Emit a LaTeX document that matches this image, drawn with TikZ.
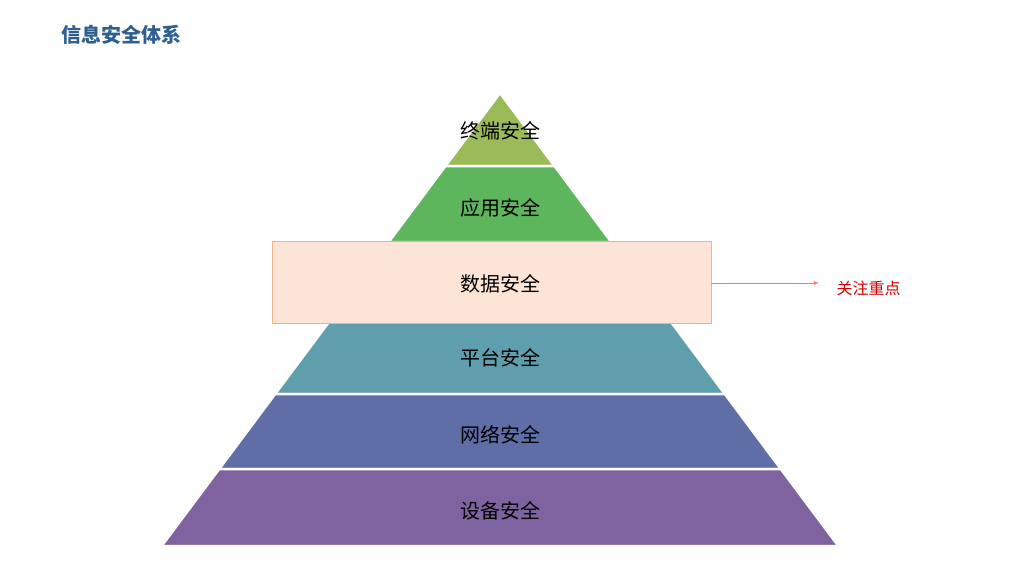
\documentclass[tikz,border=0pt]{standalone}
\usepackage{fontspec}
\newfontfamily\cjk{Noto Sans CJK SC}
\definecolor{c1}{HTML}{9BBB59}
\definecolor{c2}{HTML}{5DB55C}
\definecolor{c4}{HTML}{5F9EAD}
\definecolor{c5}{HTML}{606EA8}
\definecolor{c6}{HTML}{7F63A1}
\definecolor{boxfill}{HTML}{FCE4D6}
\definecolor{boxline}{HTML}{F4B183}
\definecolor{titleblue}{HTML}{2F5F8F}
\begin{document}
\begin{tikzpicture}[x=1pt,y=-1pt,
  layer/.style={draw=white,line width=2.5pt},
  lbl/.style={font=\cjk\fontsize{20}{24}\selectfont,text=black}]
\useasboundingbox (0,0) rectangle (1024,576);
\fill[white] (0,0) rectangle (1024,576);
% pyramid: apex (500,93), slope 0.747
\def\hw#1{(#1-93)*0.747}
\fill[layer,fill=c1] (500,93) -- ({500+\hw{166}},166) -- ({500-\hw{166}},166) -- cycle;
\fill[layer,fill=c2] ({500-\hw{166}},166) -- ({500+\hw{166}},166) -- ({500+\hw{242}},242) -- ({500-\hw{242}},242) -- cycle;
\fill[layer,fill=c4] ({500-\hw{322}},322) -- ({500+\hw{322}},322) -- ({500+\hw{394}},394) -- ({500-\hw{394}},394) -- cycle;
\fill[layer,fill=c5] ({500-\hw{394}},394) -- ({500+\hw{394}},394) -- ({500+\hw{469}},469) -- ({500-\hw{469}},469) -- cycle;
\fill[layer,fill=c6] ({500-\hw{469}},469) -- ({500+\hw{469}},469) -- ({500+\hw{546}},546) -- ({500-\hw{546}},546) -- cycle;
\node[draw=boxline,fill=boxfill,line width=0.8pt,minimum width=439pt,minimum height=82pt,inner sep=0pt] (data) at (491.5,282) {};
\node[lbl] (t1) at (500,131) {终端安全};
\node[lbl] (t2) at (500,208) {应用安全};
\node[lbl] (t3) at (500,284) {数据安全};
\node[lbl] (t4) at (500,358) {平台安全};
\node[lbl] (t5) at (500,435) {网络安全};
\node[lbl] (t6) at (500,511) {设备安全};
\node[font=\cjk\fontsize{16}{20}\selectfont,text=red!85!black,anchor=west] (focus) at (833,288) {关注重点};
\draw[-latex,draw=red!55!white,line width=0.8pt] (data.east |- 0,283) -- (819,283);
\node[font=\cjk\bfseries\fontsize{20}{24}\selectfont,text=titleblue,anchor=west] (title) at (58,35) {信息安全体系};
\end{tikzpicture}
\end{document}
